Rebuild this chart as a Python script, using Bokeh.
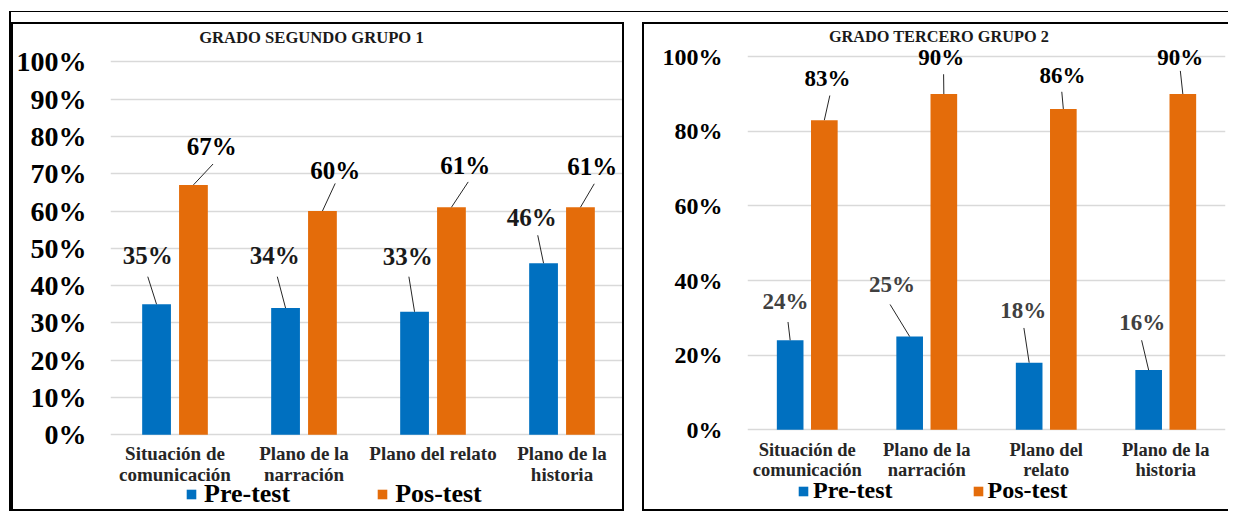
from bokeh.plotting import figure
from bokeh.models import (ColumnDataSource, FixedTicker, Legend, LegendItem,
                          LabelSet, Label, Range1d)
from bokeh.layouts import row
from bokeh.embed import file_html
from bokeh.resources import INLINE

# ---------------- data ----------------
categories_g1 = ["Situación de\ncomunicación", "Plano de la\nnarración",
                 "Plano del relato", "Plano de la\nhistoria"]
categories_g2 = ["Situación de\ncomunicación", "Plano de la\nnarración",
                 "Plano del\nrelato", "Plano de la\nhistoria"]
series_names = ["Pre-test", "Pos-test"]

pre_g1 = [0.35, 0.34, 0.33, 0.46]
pos_g1 = [0.67, 0.60, 0.61, 0.61]
pre_g2 = [0.24, 0.25, 0.18, 0.16]
pos_g2 = [0.83, 0.90, 0.86, 0.90]

ticks_g1 = [0.0, 0.1, 0.2, 0.3, 0.4, 0.5, 0.6, 0.7, 0.8, 0.9, 1.0]
tick_labels_g1 = ["0%", "10%", "20%", "30%", "40%", "50%", "60%", "70%", "80%", "90%", "100%"]
ticks_g2 = [0.0, 0.2, 0.4, 0.6, 0.8, 1.0]
tick_labels_g2 = ["0%", "20%", "40%", "60%", "80%", "100%"]

title_g1 = "GRADO SEGUNDO GRUPO 1"
title_g2 = "GRADO TERCERO  GRUPO 2"

# ---------------- layout of data labels (label centre, leader start), offsets from bar top ----
lab_pre_g1 = dict(dx=[-0.068, -0.084, -0.052, -0.091], dy=[0.132, 0.142, 0.149, 0.122],
                  lx=[-0.068, -0.064, -0.044, -0.045], ly=[0.074, 0.084, 0.094, 0.075])
lab_pos_g1 = dict(dx=[0.142, 0.099, 0.107, 0.091], dy=[0.102, 0.109, 0.113, 0.108],
                  lx=[0.152, 0.099, 0.130, 0.107], ly=[0.056, 0.074, 0.068, 0.063])
lab_pre_g2 = dict(dx=[-0.038, -0.147, -0.049, -0.054], dy=[0.104, 0.139, 0.139, 0.127],
                  lx=[-0.018, -0.164, -0.044, -0.059], ly=[0.049, 0.086, 0.093, 0.080])
lab_pos_g2 = dict(dx=[0.027, -0.021, -0.008, -0.021], dy=[0.112, 0.098, 0.090, 0.098],
                  lx=[0.046, -0.002, -0.013, -0.021], ly=[0.066, 0.053, 0.046, 0.062])

FONT = "Liberation Serif"
BLUE = "#0070C0"
ORANGE = "#E46C0A"
GRID = "#d9d9d9"
BAR_W = 0.223
OFF = 0.143


def make_chart(cats, pre, pos, ticks, tick_labels, title, lab_pre, lab_pos, cfg):
    p = figure(width=cfg["width"], height=cfg["height"],
               x_range=Range1d(0, len(cats)), y_range=Range1d(cfg["ybot"], cfg["ytop"]),
               output_backend="svg", toolbar_location=None,
               min_border_left=cfg["mbl"], min_border_right=cfg["mbr"],
               min_border_top=2, min_border_bottom=0,
               styles=cfg["styles"], margin=cfg["margin"])
    p.outline_line_color = None
    p.background_fill_color = "white"
    p.border_fill_color = "white"

    # axes
    p.xgrid.grid_line_color = None
    p.ygrid.grid_line_color = GRID
    p.ygrid.grid_line_width = 1.6
    p.yaxis.ticker = FixedTicker(ticks=ticks)
    p.yaxis.major_label_overrides = {t: l for t, l in zip(ticks, tick_labels)}
    centers = [i + 0.5 for i in range(len(cats))]
    p.xaxis.ticker = FixedTicker(ticks=centers)
    p.xaxis.major_label_overrides = {c: l for c, l in zip(centers, cats)}
    p.xaxis.fixed_location = 0
    for ax in (p.xaxis[0], p.yaxis[0]):
        ax.axis_line_color = None
        ax.major_tick_line_color = None
        ax.minor_tick_line_color = None
        ax.major_tick_out = 0
        ax.major_tick_in = 0
        ax.minor_tick_out = 0
        ax.major_label_text_font = FONT
        ax.major_label_text_font_style = "bold"
        ax.major_label_text_color = "black"
    p.yaxis.major_label_text_font_size = cfg["ytick_size"]
    p.yaxis.major_label_standoff = cfg["ytick_standoff"]
    p.xaxis.major_label_text_font_size = cfg["xtick_size"]
    p.xaxis.major_label_standoff = cfg["xtick_standoff"]
    p.xaxis.major_label_text_line_height = cfg["xtick_lh"]
    p.xaxis.major_label_text_color = "#262626"

    # title (inside the top of the frame)
    p.add_layout(Label(x=cfg["title_x"], y=cfg["title_y"], text=title,
                       text_font=FONT, text_font_size=cfg["title_size"],
                       text_font_style="bold",
                       text_color="#1a1a1a", text_align="left",
                       text_baseline="alphabetic"))

    # bars
    xs_pre = [i + 0.5 - OFF for i in range(len(cats))]
    xs_pos = [i + 0.5 + OFF for i in range(len(cats))]
    src_pre = ColumnDataSource(dict(x=xs_pre, top=pre,
                                    tx=[x + d for x, d in zip(xs_pre, lab_pre["dx"])],
                                    ty=[v + d for v, d in zip(pre, lab_pre["dy"])],
                                    sx=[x + d for x, d in zip(xs_pre, lab_pre["lx"])],
                                    sy=[v + d for v, d in zip(pre, lab_pre["ly"])],
                                    txt=["%d%%" % round(v * 100) for v in pre]))
    src_pos = ColumnDataSource(dict(x=xs_pos, top=pos,
                                    tx=[x + d for x, d in zip(xs_pos, lab_pos["dx"])],
                                    ty=[v + d for v, d in zip(pos, lab_pos["dy"])],
                                    sx=[x + d for x, d in zip(xs_pos, lab_pos["lx"])],
                                    sy=[v + d for v, d in zip(pos, lab_pos["ly"])],
                                    txt=["%d%%" % round(v * 100) for v in pos]))
    r_pre = p.vbar(x="x", top="top", width=BAR_W, bottom=0, source=src_pre,
                   fill_color=BLUE, line_color=None)
    r_pos = p.vbar(x="x", top="top", width=BAR_W, bottom=0, source=src_pos,
                   fill_color=ORANGE, line_color=None)

    # leader lines + data labels
    for src, col in ((src_pre, cfg["pre_label_color"]), (src_pos, "black")):
        p.segment(x0="x", y0="top", x1="sx", y1="sy", source=src,
                  line_color="#262626", line_width=1)
        p.add_layout(LabelSet(x="tx", y="ty", text="txt", source=src,
                              text_font=FONT, text_font_size=cfg["label_size"],
                              text_font_style="bold", text_color=col,
                              text_align="center", text_baseline="middle"))

    legend = Legend(items=[LegendItem(label=series_names[0], renderers=[r_pre]),
                           LegendItem(label=series_names[1], renderers=[r_pos])],
                    orientation="horizontal", location=cfg["legend_loc"],
                    padding=0, margin=0, spacing=cfg["legend_spacing"],
                    glyph_width=12, glyph_height=12,
                    label_standoff=cfg["legend_standoff"],
                    label_text_font=FONT, label_text_font_style="bold",
                    label_text_font_size=cfg["legend_size"],
                    label_text_color="black",
                    border_line_color=None, background_fill_alpha=0)
    p.add_layout(legend)
    return p


cfg1 = dict(width=613, height=489, mbl=97, mbr=0, ybot=-0.2108, ytop=1.0946,
            styles={"border": "2px solid black"}, margin=(10, 0, 0, 0),
            title_x=0.6875, title_y=1.065, title_size="16.6px",
            ytick_size="28px", ytick_standoff=24,
            xtick_size="19px", xtick_standoff=8, xtick_lh=1.0,
            label_size="25px", pre_label_color="#1a1a1a",
            legend_loc=(75, 4), legend_spacing=86, legend_standoff=7,
            legend_size="26px")
cfg2 = dict(width=586, height=489, mbl=103, mbr=5, ybot=-0.2243, ytop=1.081,
            styles={"border-top": "2px solid black", "border-left": "2px solid black",
                    "border-bottom": "2px solid black"},
            margin=(10, 0, 0, 18),
            title_x=0.681, title_y=1.054, title_size="16.3px",
            ytick_size="24px", ytick_standoff=25,
            xtick_size="18.5px", xtick_standoff=10, xtick_lh=1.02,
            label_size="23px", pre_label_color="#404040",
            legend_loc=(50, 9), legend_spacing=79, legend_standoff=4,
            legend_size="24px")

p1 = make_chart(categories_g1, pre_g1, pos_g1, ticks_g1, tick_labels_g1, title_g1,
                lab_pre_g1, lab_pos_g1, cfg1)
p2 = make_chart(categories_g2, pre_g2, pos_g2, ticks_g2, tick_labels_g2, title_g2,
                lab_pre_g2, lab_pos_g2, cfg2)

layout = row(p1, p2, margin=(11, 0, 0, 9),
             styles={"border-top": "1px solid black", "border-left": "2px solid black"})

open("out.html", "w").write(file_html(layout, INLINE))
